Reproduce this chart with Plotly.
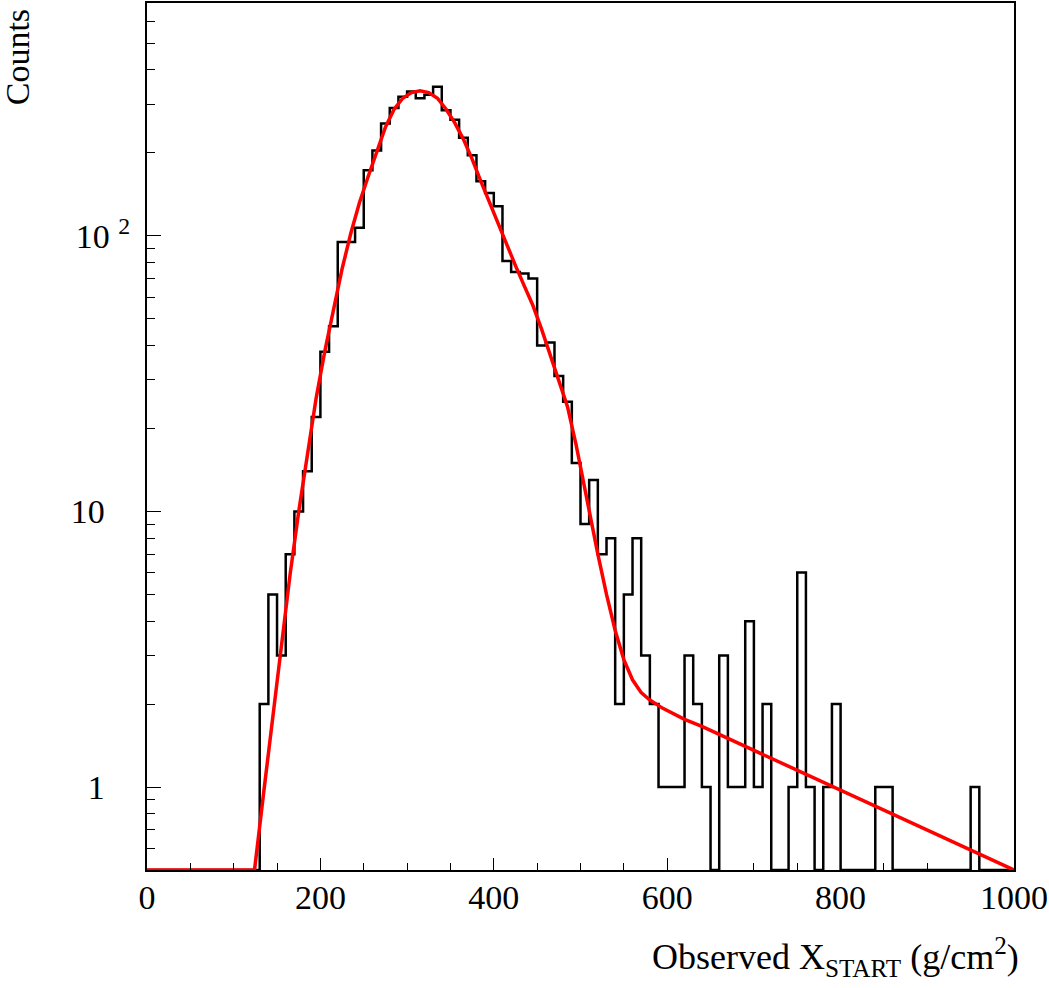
import math
import plotly.graph_objects as go

# ---------------- data ----------------
bin_width = 10
bin_low_edges = list(range(0, 1000, 10))
counts = (
    [0] * 13 +                                   # 0 .. 120
    [2, 5, 3, 7, 10, 14, 22,                     # 130 .. 190
     38, 47, 95, 95, 107, 173, 204, 256, 291, 320,   # 200 .. 290
     334, 316, 325, 348, 286, 264, 227, 196, 158, 143,  # 300 .. 390
     128, 81, 74, 73, 70, 40, 41, 31, 25, 15,     # 400 .. 490
     9, 13, 7, 8, 2, 5, 8, 3, 2, 1,               # 500 .. 590
     1, 1, 3, 2, 1, 0, 3, 1, 1, 4,                # 600 .. 690
     1, 2, 0, 0, 1, 6, 1, 0, 1, 2,                # 700 .. 790
     0, 0, 0, 0, 1, 1, 0, 0, 0, 0,                # 800 .. 890
     0, 0, 0, 0, 0, 1, 0, 0, 0, 0]                # 900 .. 990
)

fit_x = [0, 124, 135, 145, 155, 165, 175, 185, 195, 205, 215, 225, 235, 245,
         255, 265, 275, 285, 295, 305, 315, 325, 335, 345, 355, 365, 375, 385,
         395, 405, 415, 425, 435, 445, 455, 465, 475, 485, 495, 500, 510, 520,
         530, 540, 550, 560, 570, 580, 595, 620, 640, 700, 800, 900, 1000]
fit_y = [0.5, 0.5, 0.98, 1.82, 3.3, 5.9, 10.0, 16.2, 25.7, 38, 53.7, 75.9, 102,
         132, 164, 204, 248, 288, 316, 331, 336, 331, 316, 288, 257, 224, 190,
         158, 132, 112, 93, 78, 66, 56, 46, 37, 30, 24, 17.4, 14.5, 9.8, 7.0,
         5.0, 3.7, 2.9, 2.45, 2.2, 2.07, 1.93, 1.76, 1.66, 1.36, 0.97, 0.70, 0.50]

x_range = [0, 1000]
y_min, y_max = 0.5, 700
x_major = [0, 200, 400, 600, 800, 1000]
x_major_text = ["0", "200", "400", "600", "800", "1000"]
x_minor = list(range(0, 1001, 50))
y_major = [1, 10, 100]
y_major_text = ["1\u00a0\u00a0\u00a0", "10\u00a0\u00a0\u00a0", "10 <sup>2</sup>"]
y_minor = [0.6, 0.7, 0.8, 0.9, 2, 3, 4, 5, 6, 7, 8, 9,
           20, 30, 40, 50, 60, 70, 80, 90, 200, 300, 400, 500, 600]

# ---------------- figure ----------------
step_x = bin_low_edges + [bin_low_edges[-1] + bin_width]
step_y = [max(c, y_min) for c in counts]
step_y = step_y + [step_y[-1]]

FONT = "Liberation Serif, Times New Roman, serif"

fig = go.Figure()
fig.add_trace(go.Scatter(
    x=step_x, y=step_y, mode="lines", line=dict(shape="hv", color="black", width=2.5),
    showlegend=False, hoverinfo="skip"))
fig.add_trace(go.Scatter(
    x=fit_x, y=fit_y, mode="lines", line=dict(shape="linear", color="#ff0000", width=3.5),
    showlegend=False, hoverinfo="skip"))

fig.update_layout(
    width=1049, height=988,
    margin=dict(l=147, r=34, t=1, b=118),
    paper_bgcolor="white", plot_bgcolor="white",
    font=dict(family=FONT, size=34, color="black"),
    xaxis=dict(
        range=x_range, showgrid=False, zeroline=False,
        showline=True, linecolor="black", linewidth=2, mirror=True,
        tickmode="array", tickvals=x_major, ticktext=x_major_text,
        ticks="inside", ticklen=12, tickwidth=1, tickcolor="black",
        ticklabelstandoff=-4,
        minor=dict(tickmode="array", tickvals=x_minor, ticks="inside", ticklen=7,
                   tickwidth=1, tickcolor="black", showgrid=False),
        tickfont=dict(family=FONT, size=34),
    ),
    yaxis=dict(
        type="log", range=[math.log10(y_min), math.log10(y_max)],
        showgrid=False, zeroline=False,
        showline=True, linecolor="black", linewidth=2, mirror=True,
        tickmode="array", tickvals=y_major, ticktext=y_major_text,
        ticks="inside", ticklen=14, tickwidth=1, tickcolor="black",
        ticklabelstandoff=8,
        minor=dict(tickmode="array", tickvals=y_minor, ticks="inside", ticklen=8,
                   tickwidth=1, tickcolor="black", showgrid=False),
        tickfont=dict(family=FONT, size=34),
    ),
    annotations=[
        dict(text="Observed X<sub>START</sub> (g/cm<sup>2</sup>)",
             xref="paper", yref="paper", x=1.0, y=-0.100, xanchor="right", yanchor="middle",
             xshift=7, showarrow=False, font=dict(family=FONT, size=36)),
        dict(text="Counts", textangle=-90,
             xref="paper", yref="paper", x=-0.150, y=0.995, xanchor="center", yanchor="top",
             showarrow=False, font=dict(family=FONT, size=34)),
    ],
)

fig.write_html("out.html")
